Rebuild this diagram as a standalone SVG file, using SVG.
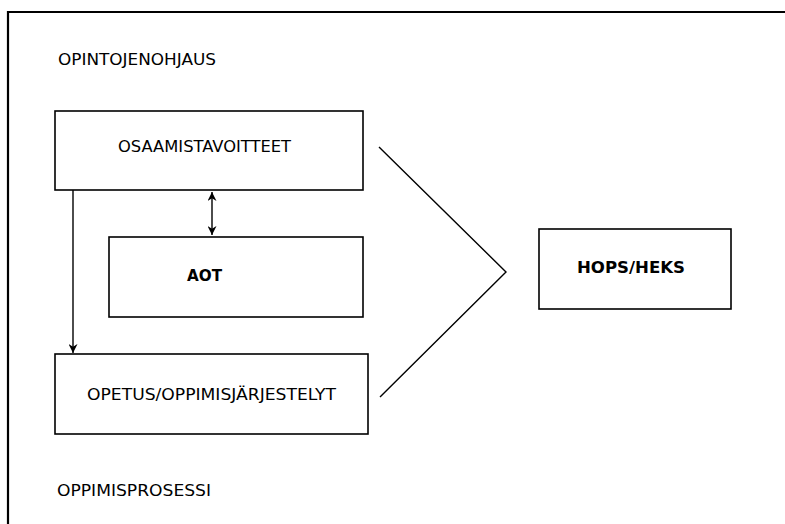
<svg xmlns="http://www.w3.org/2000/svg" width="785" height="524" viewBox="0 0 785 524">
<style>
.box{fill:#fff;stroke:#000;stroke-width:1.6}
.t{font-family:"DejaVu Sans",Verdana,sans-serif;font-size:16.5px;fill:#000}
.b{font-weight:bold}
.c{fill:none;stroke:#000;stroke-width:1.4}
</style>
<defs>
<marker id="ah" viewBox="0 0 10 10" refX="10" refY="5" markerWidth="9" markerHeight="9" markerUnits="userSpaceOnUse" orient="auto-start-reverse">
<path d="M0,0 L10,5 L0,10 L3,5 z" fill="#000"/>
</marker>
</defs>
<rect width="785" height="524" fill="#fff"/>
<path d="M8,530 V12 H790" fill="none" stroke="#000" stroke-width="2.2"/>
<text class="t" x="58" y="65" textLength="158" lengthAdjust="spacingAndGlyphs">OPINTOJENOHJAUS</text>
<text class="t" x="57" y="496" textLength="154" lengthAdjust="spacingAndGlyphs">OPPIMISPROSESSI</text>
<g id="osaamistavoitteet">
<rect class="box" x="55" y="111" width="308" height="79"/>
<text class="t" x="118" y="152" textLength="173" lengthAdjust="spacingAndGlyphs">OSAAMISTAVOITTEET</text>
</g>
<g id="aot">
<rect class="box" x="109" y="237" width="254" height="80"/>
<text class="t b" x="187" y="281" textLength="35" lengthAdjust="spacingAndGlyphs">AOT</text>
</g>
<g id="opetus">
<rect class="box" x="55" y="354" width="313" height="80"/>
<text class="t" x="87" y="400" textLength="249" lengthAdjust="spacingAndGlyphs">OPETUS/OPPIMISJÄRJESTELYT</text>
</g>
<g id="hops">
<rect class="box" x="539" y="229" width="192" height="80"/>
<text class="t b" x="577" y="273" textLength="108" lengthAdjust="spacingAndGlyphs">HOPS/HEKS</text>
</g>
<g id="connectors">
<line class="c" x1="73" y1="190" x2="73" y2="353" marker-end="url(#ah)"/>
<line class="c" x1="212" y1="192" x2="212" y2="235" marker-start="url(#ah)" marker-end="url(#ah)"/>
<polyline class="c" points="379,147 506,272 380,397"/>
</g>
</svg>
